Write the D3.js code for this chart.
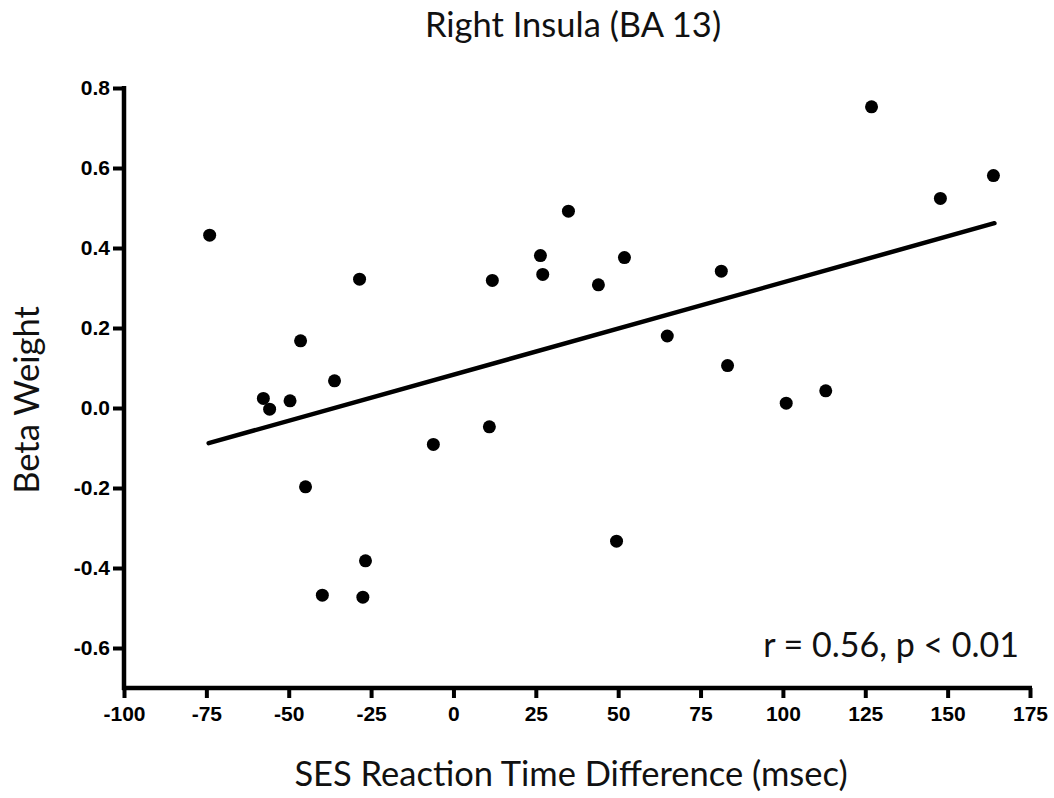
<!DOCTYPE html>
<html><head><meta charset="utf-8">
<script src="https://cdn.jsdelivr.net/npm/d3@7"></script>
<style>body{margin:0;background:#fff}svg{display:block}</style>
</head><body>
<svg id="c" width="1054" height="798"></svg>
<script>
const xValues = [-74.0,-57.7,-55.8,-49.6,-46.4,-36.1,-44.9,-39.8,-28.5,-26.7,-27.5,-6.1,10.9,11.8,26.4,27.1,34.9,44.0,51.9,49.5,64.9,81.3,83.2,101.0,113.0,126.9,147.8,163.9];
const yValues = [0.432,0.024,-0.003,0.018,0.168,0.068,-0.197,-0.468,0.322,-0.382,-0.473,-0.091,-0.047,0.319,0.381,0.334,0.492,0.308,0.376,-0.333,0.180,0.342,0.106,0.012,0.043,0.753,0.524,0.581];
const fitX = [-74.3, 164.2];
const fitY = [-0.088, 0.462];
const xTicks = [-100,-75,-50,-25,0,25,50,75,100,125,150,175];
const yTicks = [0.8,0.6,0.4,0.2,0.0,-0.2,-0.4,-0.6];
const title = "Right Insula (BA 13)";
const xTitle = "SES Reaction Time Difference (msec)";
const yTitle = "Beta Weight";
const note = "r = 0.56, p < 0.01";

const svg = d3.select("#c");
const x = d3.scaleLinear().domain([-100,175]).range([124,1030]);
const y = d3.scaleLinear().domain([-0.7,0.8]).range([688,88]);
const tickFont = "'Liberation Sans', Arial, sans-serif";
const labFont = "Lato, 'Open Sans', sans-serif";
const fx = d => String(d);
const fy = d => d3.format(".1f")(d).replace("\u2212","-");

const xa = svg.append("g").attr("transform","translate(0,688)")
  .call(d3.axisBottom(x).tickValues(xTicks).tickFormat(fx).tickSize(10).tickSizeOuter(0).tickPadding(8));
const ya = svg.append("g").attr("transform","translate(124,0)")
  .call(d3.axisLeft(y).tickValues(yTicks).tickFormat(fy).tickSize(11).tickSizeOuter(0).tickPadding(3));
[xa,ya].forEach(a=>{
  a.select(".domain").attr("stroke","#000").attr("stroke-width",4.5);
  a.selectAll(".tick line").attr("stroke","#000").attr("stroke-width",4);
  a.selectAll(".tick text").attr("fill","#000").attr("font-family",tickFont).attr("font-weight","bold").attr("font-size",21);
});
xa.select(".domain").attr("d","M"+(x(-100)-2)+",0H"+(x(175)+2));
ya.select(".domain").attr("d","M0,"+(y(0.8)-2)+"V"+(y(-0.7)+2));

svg.append("line")
  .attr("x1",x(fitX[0])).attr("y1",y(fitY[0]))
  .attr("x2",x(fitX[1])).attr("y2",y(fitY[1]))
  .attr("stroke","#000").attr("stroke-width",4.5).attr("stroke-linecap","round");

svg.append("g").selectAll("circle").data(xValues.map((v,i)=>[v,yValues[i]])).join("circle")
  .attr("cx",d=>x(d[0])).attr("cy",d=>y(d[1])).attr("r",6.5).attr("fill","#000");

svg.append("text").attr("x",573).attr("y",37).attr("text-anchor","middle")
  .attr("font-family",labFont).attr("font-size",34.5).attr("fill","#111").text(title);
svg.append("text").attr("x",571).attr("y",786).attr("text-anchor","middle")
  .attr("font-family",labFont).attr("font-size",34.5).attr("fill","#111").text(xTitle);
svg.append("text").attr("transform","translate(39,400) rotate(-90)").attr("text-anchor","middle")
  .attr("font-family",labFont).attr("font-size",34.5).attr("fill","#111").text(yTitle);
svg.append("text").attr("x",1019).attr("y",657).attr("text-anchor","end")
  .attr("font-family",labFont).attr("font-size",34).attr("fill","#111").text(note);
</script>
</body></html>
